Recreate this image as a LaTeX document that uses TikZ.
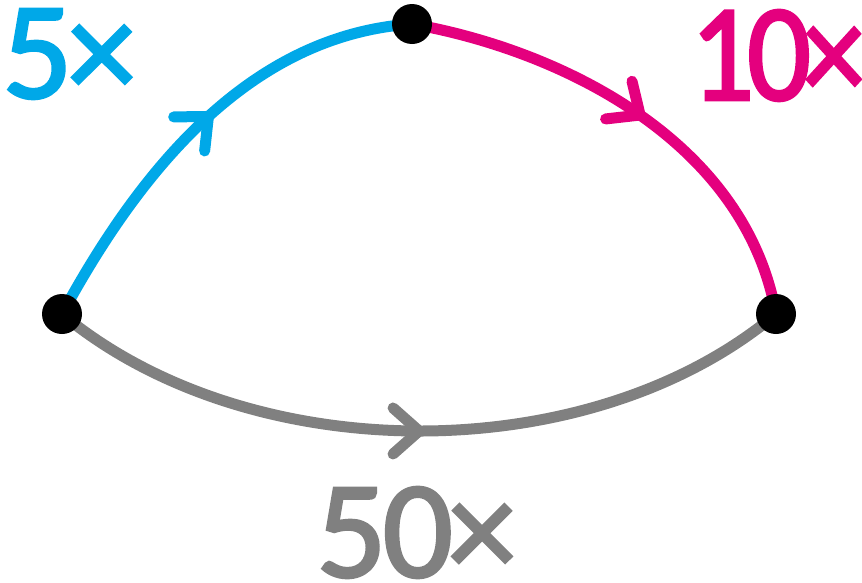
\documentclass[tikz,border=0pt]{standalone}
\usepackage{fontspec}
\setmainfont{Carlito}
\newfontfamily\lblfont{Carlito}[FakeBold=2]
\usetikzlibrary{decorations.markings}
\definecolor{cblue}{RGB}{0,168,232}
\definecolor{cmag}{RGB}{228,0,126}
\definecolor{cgray}{RGB}{128,128,128}
\tikzset{
  curve/.style={line width=8.25pt, line cap=round},
  vhead/.style 2 args={postaction={decorate}, decoration={markings, mark=at position #1 with {\draw[#2, line width=8.25pt, line cap=round, line join=round] (-26,23) -- (0,0) -- (-26,-23);}}},
  dot/.style={circle, fill=black, minimum size=30pt, inner sep=0pt},
  lbl/.style={anchor=base west, inner sep=0pt, text height=64pt, text depth=0pt, font=\fontsize{104}{104}\lblfont},
}
\begin{document}
\begin{tikzpicture}[x=0.75pt, y=-0.75pt]
\useasboundingbox (0,0) rectangle (862,582);
\coordinate (L) at (62,314);
\coordinate (T) at (412,24);
\coordinate (R) at (776,314);
\draw[curve, cblue, vhead={0.52}{cblue}] (L) .. controls (140,170) and (250,35) .. (T);
\draw[curve, cmag, vhead={0.5}{cmag}] (T) .. controls (560,50) and (745,140) .. (R);
\draw[curve, cgray, vhead={0.5}{cgray}] (L) .. controls (250,470) and (590,470) .. (R);
\node[dot] (nL) at (L) {};
\node[dot] (nT) at (T) {};
\node[dot] (nR) at (R) {};
\node[lbl, text=cblue] (t5) at (2,98) {5\kern-4pt ×};
\node[lbl, text=cmag] (t10) at (690,100) {\scalebox{0.91}[1]{1\kern-6pt 0\kern-7pt ×}};
\node[lbl, text=cgray] (t50) at (316,577) {5\kern-3pt 0\kern-4pt ×};
\end{tikzpicture}
\end{document}
